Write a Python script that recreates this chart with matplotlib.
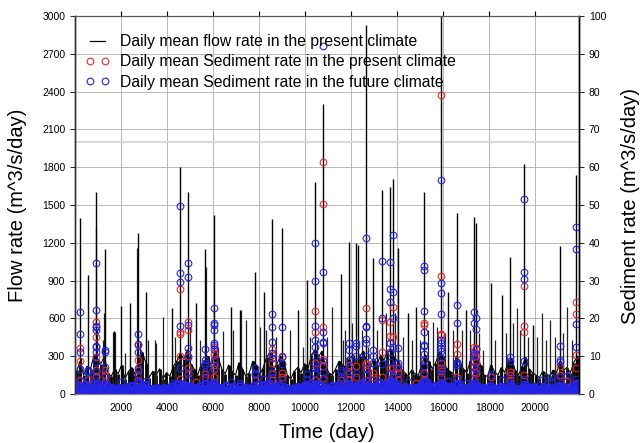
import numpy as np
import matplotlib
matplotlib.use('Agg')
import matplotlib.pyplot as plt
from matplotlib.lines import Line2D

plt.rcParams['font.family'] = ['Liberation Sans', 'DejaVu Sans']

# ---------------- data ----------------
# major flow peaks (day, m^3/s)
major_days = [235, 565, 930, 1291, 1696, 2017, 2378, 2740, 3104, 4235, 4552, 4913,
              5278, 5670, 6044, 6757, 7161, 7843, 8217, 8539, 9000, 9696, 10061,
              10422, 10783, 11552, 11914, 12204, 12300, 12626, 12957, 13322, 13683,
              13800, 14043, 14478, 14813, 15161, 15900, 16217, 16609, 16987, 17348,
              17422, 18061, 18539, 18900, 19522, 19887, 21074, 21757]
major_flow = [1394, 944, 1606, 1151, 500, 698, 722, 1280, 810, 685, 1804, 1606,
              722, 1151, 1420, 693, 667, 971, 812, 1386, 1315, 667, 905,
              1685, 2299, 950, 1209, 1196, 1180, 2929, 1082, 1619, 1640,
              1706, 1161, 643, 693, 1601, 3100, 812, 1434, 667, 1402,
              1360, 878, 786, 1090, 1823, 548, 1175, 1738]

# secondary flow peaks
second_days = [132, 277, 494, 900, 958, 1219, 1263, 1654, 1726, 2161, 2697, 2813,
               3176, 3466, 3538, 3828, 4335, 4987, 5422, 5712, 6219, 6437, 6871,
               7205, 7451, 8031, 8321, 8755, 9335, 9915, 10205, 10495, 10929, 11147,
               11654, 11727, 11799, 12016, 12451, 12741, 13103, 13495, 13900, 14263,
               14625, 14987, 15350, 15567, 15712, 16074, 16437, 16799, 17161, 17567,
               17741, 18248, 18712, 19045, 19190, 19335, 19697, 20060, 20277, 20466,
               20640, 20857, 21219, 21364, 21582]
second_flow = [190, 283, 217, 1315, 508, 429, 640, 495, 495, 323, 1156, 402,
               429, 429, 402, 614, 455, 534, 429, 1011, 376, 500, 508,
               667, 587, 534, 508, 455, 508, 376, 455, 429, 455, 693,
               429, 508, 296, 561, 508, 376, 508, 640, 640, 455,
               429, 429, 508, 574, 534, 481, 508, 508, 508, 481,
               349, 429, 481, 561, 680, 508, 455, 455, 640, 429,
               587, 455, 481, 693, 429]

# background flow level, one value every 150 days from day 75
minor_flow = [180, 260, 150, 220, 200, 310, 280, 240, 300, 170,
              140, 200, 160, 230, 120, 180, 210, 150, 270, 330,
              250, 130, 180, 150, 200, 120, 170, 140, 220, 260,
              320, 280, 350, 240, 200, 150, 230, 260, 300, 220,
              340, 290, 200, 160, 230, 180, 150, 250, 200, 140,
              170, 260, 230, 150, 210, 290, 330, 190, 240, 300,
              260, 150, 120, 180, 210, 170, 240, 200, 310, 350,
              290, 340, 230, 170, 150, 200, 260, 230, 190, 280,
              310, 260, 300, 340, 250, 200, 280, 230, 310, 270,
              330, 350, 290, 260, 200, 170, 140, 190, 160, 150,
              240, 310, 260, 200, 250, 330, 300, 210, 180, 160,
              300, 250, 200, 170, 260, 320, 290, 230, 150, 140,
              230, 180, 150, 210, 170, 260, 280, 190, 150, 220,
              290, 200, 170, 150, 130, 180, 160, 140, 190, 170,
              260, 190, 210, 170, 250, 300]
minor_days = np.arange(75, 75 + 150 * len(minor_flow), 150)

# low future sediment level, one value every 100 days from day 50
low_future = [1.2, 2.0, 1.0, 1.6, 2.4, 1.1, 1.8, 1.3, 0.9, 2.6, 2.2, 1.5, 1.0, 2.3, 1.9, 1.2, 1.6, 0.8, 1.4, 1.7,
              1.1, 0.9, 1.9, 1.3, 2.1, 1.0, 1.5, 2.8, 2.2, 1.2, 2.5, 1.1, 0.8, 1.4, 1.0, 1.7, 0.9, 1.2, 1.6, 0.8,
              1.3, 1.9, 2.2, 1.0, 2.7, 1.6, 1.1, 2.4, 2.0, 1.3, 1.8, 1.0, 1.5, 1.2, 2.2, 1.4, 2.6, 1.1, 1.9, 2.3,
              2.8, 1.5, 1.2, 1.7, 1.0, 2.0, 1.3, 0.9, 1.8, 1.5, 1.1, 2.2, 1.4, 1.0, 1.6, 0.9, 1.2, 2.0, 1.5, 2.3,
              1.0, 1.4, 2.4, 1.8, 2.7, 1.3, 1.1, 1.9, 2.5, 1.2, 0.9, 1.6, 1.1, 1.4, 0.8, 1.3, 1.9, 1.1, 1.5, 2.1,
              2.4, 1.8, 2.9, 2.2, 1.5, 2.7, 2.0, 1.3, 1.7, 1.0, 1.4, 2.1, 1.2, 1.6, 2.3, 1.8, 1.1, 1.5, 2.6, 2.0,
              1.4, 2.2, 1.7, 2.5, 3.0, 1.9, 1.3, 2.4, 1.8, 1.2, 2.1, 1.6, 2.8, 2.2, 1.5, 2.6, 3.1, 2.3, 2.7, 1.9,
              2.2, 1.5, 1.2, 1.8, 1.0, 1.4, 1.1, 1.7, 1.3, 1.9, 2.3, 2.8, 3.2, 2.4, 1.6, 1.3, 2.0, 1.7, 2.5, 3.0,
              2.2, 1.5, 1.8, 1.2, 1.6, 2.3, 2.7, 1.7, 1.3, 1.1, 1.5, 1.9, 2.4, 2.9, 2.1, 1.6, 1.2, 1.5, 1.0, 1.4,
              2.0, 1.6, 1.1, 1.3, 1.8, 1.2, 1.5, 1.0, 2.1, 2.5, 1.7, 1.3, 1.0, 1.4, 1.9, 2.4, 1.6, 1.2, 1.5, 1.8,
              1.3, 1.0, 1.4, 1.9, 1.2, 0.9, 1.6, 1.3, 1.1, 1.7, 2.2, 1.5, 1.8, 1.1, 1.4, 1.0, 2.0, 2.6, 2.3]
low_days = np.arange(50, 50 + 100 * len(low_future), 100)

# lower part of the future band, one value every 100 days from day 100
low_future_b = [0.6, 0.9, 0.5, 0.8, 1.1, 0.7, 0.9, 0.6, 0.5, 1.2, 1.0, 0.8, 0.6, 1.1, 0.9, 0.7, 0.8, 0.5, 0.7, 0.9,
                0.6, 0.5, 0.9, 0.7, 1.0, 0.6, 0.8, 1.3, 1.1, 0.7, 1.2, 0.6, 0.5, 0.7, 0.6, 0.9, 0.5, 0.7, 0.8, 0.5,
                0.7, 0.9, 1.1, 0.6, 1.3, 0.8, 0.6, 1.2, 1.0, 0.7, 0.9, 0.6, 0.8, 0.7, 1.1, 0.7, 1.2, 0.6, 0.9, 1.1,
                1.3, 0.8, 0.7, 0.9, 0.6, 1.0, 0.7, 0.5, 0.9, 0.8, 0.6, 1.1, 0.7, 0.6, 0.8, 0.5, 0.7, 1.0, 0.8, 1.1,
                0.6, 0.7, 1.2, 0.9, 1.3, 0.7, 0.6, 0.9, 1.2, 0.7, 0.5, 0.8, 0.6, 0.7, 0.5, 0.7, 0.9, 0.6, 0.8, 1.0,
                1.2, 0.9, 1.4, 1.1, 0.8, 1.3, 1.0, 0.7, 0.9, 0.6, 0.7, 1.0, 0.7, 0.8, 1.1, 0.9, 0.6, 0.8, 1.2, 1.0,
                0.7, 1.1, 0.9, 1.2, 1.4, 1.0, 0.7, 1.2, 0.9, 0.7, 1.0, 0.8, 1.3, 1.1, 0.8, 1.2, 1.5, 1.1, 1.3, 1.0,
                1.1, 0.8, 0.7, 0.9, 0.6, 0.7, 0.6, 0.9, 0.7, 1.0, 1.1, 1.3, 1.5, 1.2, 0.8, 0.7, 1.0, 0.9, 1.2, 1.4,
                1.1, 0.8, 0.9, 0.7, 0.8, 1.1, 1.3, 0.9, 0.7, 0.6, 0.8, 1.0, 1.2, 1.4, 1.0, 0.8, 0.7, 0.8, 0.6, 0.7,
                1.0, 0.8, 0.6, 0.7, 0.9, 0.7, 0.8, 0.6, 1.0, 1.2, 0.9, 0.7, 0.6, 0.7, 1.0, 1.2, 0.8, 0.7, 0.8, 0.9,
                0.7, 0.6, 0.7, 1.0, 0.7, 0.5, 0.8, 0.7, 0.6, 0.9, 1.1, 0.8, 0.9, 0.6, 0.7, 0.6, 1.0, 1.3, 1.1]
low_days_b = np.arange(100, 100 + 100 * len(low_future_b), 100)

# sediment events: day, present-climate values, future-climate values
event_days = [235, 565, 930, 1291, 2017, 2740, 3104, 4235, 4552, 4913, 5278, 5670,
              6044, 6757, 7161, 7843, 8217, 8539, 9000, 10061, 10422, 10783, 11552,
              11914, 12204, 12626, 12957, 13322, 13683, 13800, 14043, 14478, 14813,
              15161, 15900, 16217, 16609, 16987, 17348, 17422, 18061, 18539, 18900,
              19522, 20277, 20700, 21074, 21364, 21757]
present_vals = [[12.3, 8.8, 3.7, 2.5], [3.7], [19.1, 15.0, 9.9, 6.3, 4.6], [6.3, 4.9, 3.5],
                [], [13.0, 9.0, 6.3, 3.7], [], [], [27.7, 16.5, 15.8, 10.0, 3.9],
                [19.1, 16.9, 10.0, 6.8, 5.2], [3.2], [5.2, 4.4],
                [12.4, 10.8, 10.2, 7.7, 6.5, 4.5, 3.2], [], [], [3.7], [],
                [11.9, 10.3, 8.1, 5.2, 3.7], [10.0, 5.6, 4.5], [], [22.0, 16.3, 8.1, 3.7],
                [61.3, 50.3, 17.8, 9.3, 7.3, 4.2], [3.7],
                [7.7, 5.5, 3.7], [7.3, 4.4], [22.8, 8.1, 7.7, 6.5, 3.7], [5.5, 4.5],
                [19.7, 11.0, 4.4], [19.1, 15.4, 13.4, 6.8, 3.7], [23.1, 15.0, 7.0, 4.4],
                [6.8, 5.5, 3.7], [], [3.0],
                [18.7, 18.2, 9.0, 5.5, 3.7], [79.0, 31.2, 16.0, 15.6, 8.3, 6.8, 6.2, 4.4, 2.8],
                [], [13.1, 10.6, 4.4], [], [12.4, 11.2, 10.0, 7.3, 5.7, 3.7],
                [12.2, 10.0, 8.5, 5.6], [4.4], [], [5.7, 5.0, 3.7],
                [28.6, 18.1, 16.4, 5.0], [], [], [7.3, 5.0], [3.5], [24.4, 21.2, 10.3, 6.8, 3.0]]
future_vals = [[21.7, 15.8, 11.2, 6.5, 3.5], [6.3, 5.9, 4.2],
               [34.6, 22.2, 18.1, 17.6, 16.8, 12.8, 12.5, 11.0, 8.5, 5.8, 3.5],
               [11.6, 11.0, 7.2, 4.4], [3.2], [16.0, 13.1, 11.2, 7.0, 5.0], [3.5], [3.0],
               [49.7, 31.9, 29.7, 18.0, 6.9, 3.0], [34.6, 31.0, 18.3, 12.1, 9.8, 5.8, 3.8],
               [], [11.8, 9.0, 8.3, 7.8, 5.7, 3.8],
               [22.8, 18.7, 18.2, 16.8, 13.4, 12.9, 11.8, 9.0, 7.0], [3.3], [3.0],
               [6.8, 5.5, 5.0], [3.9], [21.1, 17.8, 13.7, 10.8, 9.5, 5.7, 4.4],
               [17.8, 9.8, 8.0, 3.7], [5.3, 3.9],
               [40.0, 29.9, 18.1, 14.3, 12.4, 10.0, 7.7, 7.0, 5.5],
               [92.1, 32.2, 16.3, 13.7, 13.4, 8.6, 5.7, 3.7], [6.3, 5.7, 4.5],
               [13.6, 11.6, 9.0, 7.0, 4.5], [13.4, 12.8, 10.0, 5.5],
               [41.4, 18.1, 17.8, 14.5, 13.4, 10.0, 7.0, 5.0], [11.6, 10.0, 8.1, 3.7],
               [35.2, 20.2, 8.0], [34.8, 27.9, 24.4, 13.6, 11.0, 8.5, 5.5],
               [42.1, 27.1, 20.2, 12.4, 5.0], [12.2, 8.1, 7.5, 4.5], [3.2], [],
               [33.9, 32.9, 22.0, 16.4, 13.0, 12.6, 10.6, 9.0, 7.4, 5.0],
               [56.6, 29.3, 26.6, 21.1, 14.3, 13.4, 12.2, 11.3, 9.6, 6.5, 5.5],
               [3.4], [23.5, 18.7, 8.5, 8.1, 7.6, 4.0], [3.0], [21.8, 18.7, 10.8, 10.4, 8.5, 5.5],
               [20.0, 17.1, 11.8, 6.5], [5.0], [3.7], [9.9, 8.8, 4.4],
               [51.5, 32.4, 30.4, 8.8, 4.0], [3.8], [4.5, 3.5], [12.7, 8.9, 8.4, 4.5], [4.8],
               [44.1, 38.4, 18.4, 12.4, 4.0]]

flow_ticks = list(range(0, 3001, 300))
sed_ticks = list(range(0, 101, 10))
day_ticks = list(range(2000, 20001, 2000))

legend_labels = ['Daily mean flow rate in the present climate',
                 'Daily mean Sediment rate in the present climate',
                 'Daily mean Sediment rate in the future climate']

RED = '#e82c2c'
BLUE = '#2424e6'

# ---------------- figure ----------------
fig = plt.figure(figsize=(6.41, 4.43), dpi=100)
ax = fig.add_axes([75 / 641, 49 / 443, 504 / 641, 378 / 443])
ax.set_xlim(0, 21900)
ax.set_ylim(0, 3000)

for yv in flow_ticks:
    ax.axhline(yv, color='#b8b8b8', lw=0.7, zorder=0)
for xv in day_ticks:
    ax.axvline(xv, color='#b8b8b8', lw=0.7, zorder=0)
ax.axhline(2000, color='#d6d6d6', lw=1.3, zorder=0)

ax.vlines(minor_days, 0, minor_flow, color='black', lw=2.0, zorder=2)
ax.plot(minor_days, minor_flow, color='black', lw=0.8, zorder=2)
ax.vlines(second_days, 0, second_flow, color='#222222', lw=0.9, zorder=2)
ax.vlines(major_days, 0, major_flow, color='black', lw=1.0, zorder=2)

ax.set_yticks(flow_ticks)
ax.set_xticks(day_ticks)
ax.tick_params(axis='y', direction='out', length=3.5, labelsize=7.5, width=0.6)
ax.tick_params(axis='x', bottom=False, top=True, labelbottom=True, direction='out',
               length=3.5, labelsize=7.5, width=0.8, pad=3)

ax2 = ax.twinx()
ax2.set_ylim(0, 100)
ax2.set_yticks(sed_ticks)
ax2.tick_params(axis='y', direction='out', length=3.5, labelsize=7.5, width=0.6)

mk = dict(ls='none', marker='o', mfc='none', ms=4.8, mew=0.8)
band = dict(ls='none', marker='o', mfc='none', ms=5.0, mew=1.7)
for d, vals in zip(event_days, present_vals):
    if vals:
        ax2.plot([d] * len(vals), vals, mec=RED, **mk)
for d, vals in zip(event_days, future_vals):
    if vals:
        ax2.plot([d] * len(vals), vals, mec=BLUE, **mk)
ax2.plot(low_days_b, low_future_b, mec=BLUE, **band)
ax2.plot(low_days, low_future, mec=BLUE, **band)

for a in (ax, ax2):
    a.spines['left'].set_color('#333333')
    a.spines['top'].set_color('#555555')
    a.spines['bottom'].set_color('#888888')
    a.spines['right'].set_color('black')
    a.spines['left'].set_linewidth(1.0)
    a.spines['right'].set_linewidth(1.0)

handles = [Line2D([], [], color='black', lw=0.9),
           Line2D([], [], mec=RED, **mk),
           Line2D([], [], mec=BLUE, **mk)]
ax2.legend(handles, legend_labels, loc='upper left', bbox_to_anchor=(0.02, 0.952),
           frameon=False, fontsize=11.3, numpoints=2, handlelength=1.6,
           handletextpad=0.62, labelspacing=0.33, borderaxespad=0, borderpad=0)

fig.text(18 / 641, 1 - 205 / 443, 'Flow rate (m^3/s/day)', rotation=90,
         ha='center', va='center', fontsize=14.5)
fig.text(631 / 641, 1 - 206 / 443, 'Sediment rate (m^3/s/day)', rotation=90,
         ha='center', va='center', fontsize=14.5)
fig.text(327 / 641, 1 - 432 / 443, 'Time (day)', ha='center', va='center', fontsize=14.5)

fig.savefig('out.png', dpi=100)
